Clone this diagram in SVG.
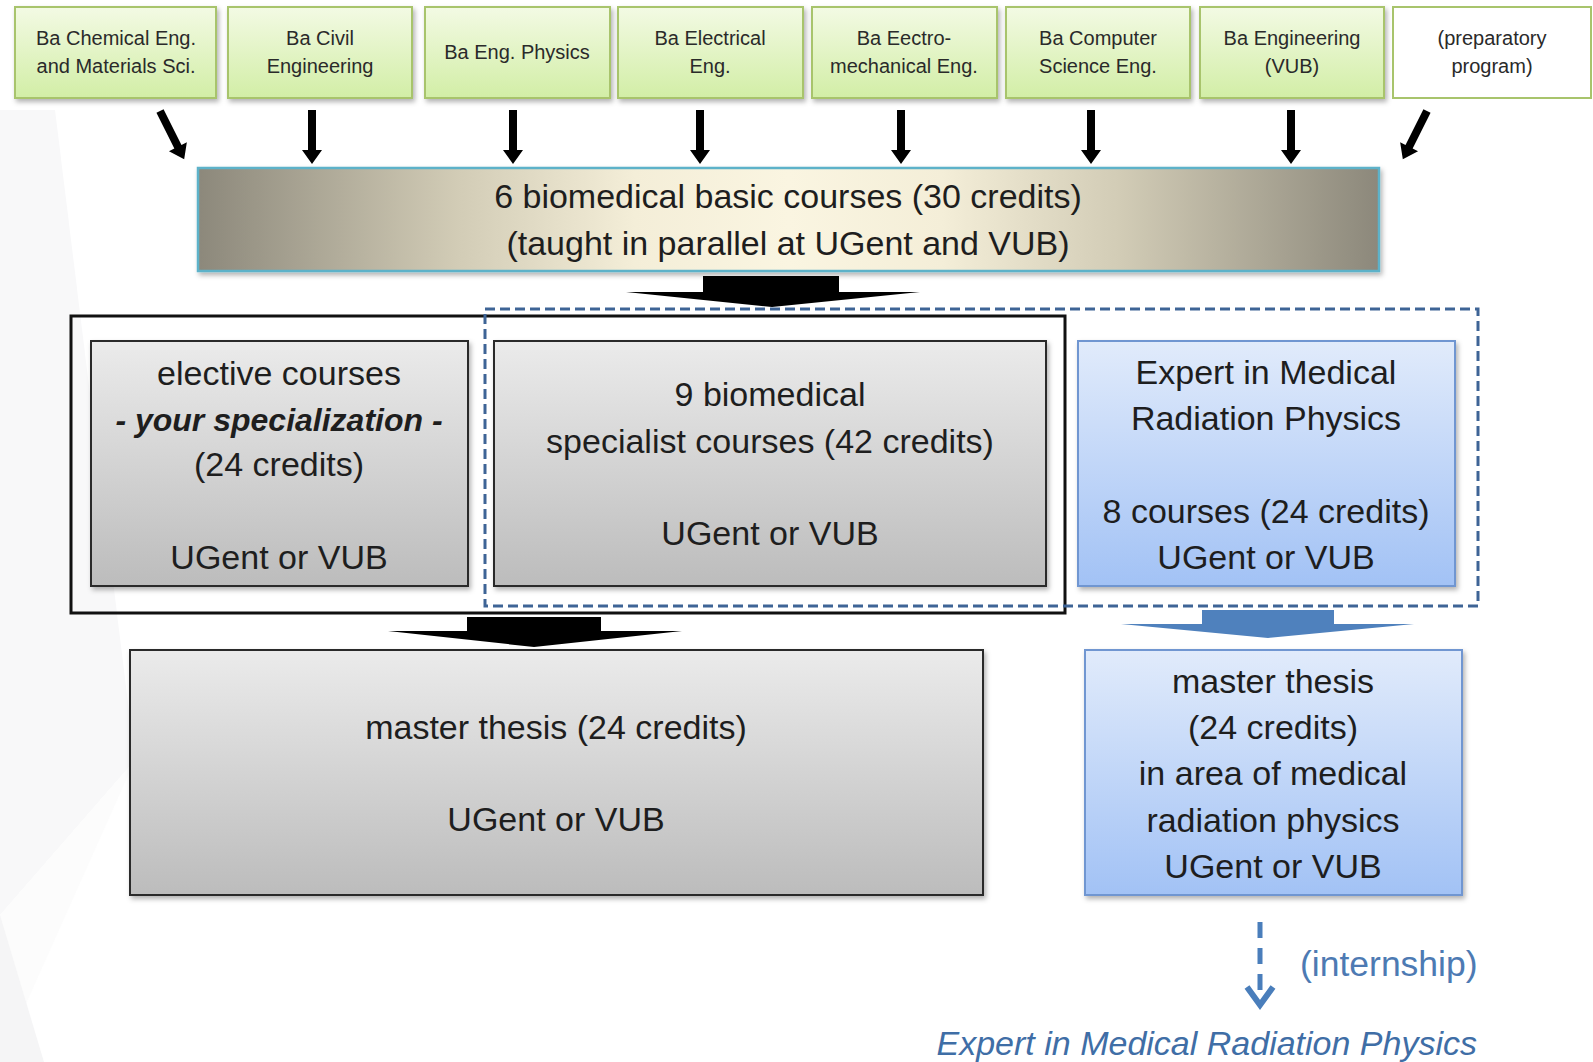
<svg xmlns="http://www.w3.org/2000/svg" width="1593" height="1062" viewBox="0 0 1593 1062">
<defs>
<style>
.t{font-family:"Liberation Sans",Arial,sans-serif;fill:#1e1e1e;text-anchor:middle}
.top{font-size:20px;fill:#2a2a2a}
.big{font-size:34px}
.green{fill:url(#gGreen);stroke:#a8c46c;stroke-width:2}
.gray{fill:url(#gGray);stroke:#2b2b2b;stroke-width:2}
.blue{fill:url(#gBlue);stroke:#6f96d1;stroke-width:2}
.blk{fill:#000}
</style>
<linearGradient id="gGreen" x1="0" y1="0" x2="0" y2="1"><stop offset="0" stop-color="#f3fae4"/><stop offset="1" stop-color="#d2eea6"/></linearGradient>
<linearGradient id="gGray" x1="0" y1="0" x2="0" y2="1"><stop offset="0" stop-color="#ebebeb"/><stop offset="1" stop-color="#bcbcbc"/></linearGradient>
<linearGradient id="gBlue" x1="0" y1="0" x2="0" y2="1"><stop offset="0" stop-color="#e1ebfb"/><stop offset="1" stop-color="#a2c2f5"/></linearGradient>
<linearGradient id="gBasic" x1="0" y1="0" x2="1" y2="0"><stop offset="0" stop-color="#8c887b"/><stop offset="0.22" stop-color="#d2ccb6"/><stop offset="0.37" stop-color="#f4eed8"/><stop offset="0.5" stop-color="#faf5e1"/><stop offset="0.63" stop-color="#f4eed8"/><stop offset="0.78" stop-color="#d2ccb6"/><stop offset="1" stop-color="#8c887b"/></linearGradient>
<filter id="sh" x="-5%" y="-10%" width="115%" height="130%"><feDropShadow dx="2" dy="3" stdDeviation="2.5" flood-color="#000" flood-opacity="0.3"/></filter>
<path id="arr" d="M-4,0 L4,0 L4,40 L10,40 L0,54 L-10,40 L-4,40 Z"/>
</defs>
<rect width="1593" height="1062" fill="#ffffff"/>
<g id="background">
<polygon points="0,110 55,110 135,760 0,915" fill="#f8f8f9"/>
<polygon points="0,915 135,760 0,1062" fill="#fcfcfc"/>
<polygon points="0,915 44,1062 0,1062" fill="#f5f5f6"/>
</g>
<g id="groups">
<rect id="outerBox" x="71" y="316" width="994" height="297" fill="none" stroke="#111" stroke-width="3"/>
<rect id="dashedBox" x="485" y="309" width="993" height="297" fill="none" stroke="#3e6496" stroke-width="3" stroke-dasharray="10 5"/>
</g>
<g id="connectors">
<use href="#arr" x="312" y="110" class="blk"/>
<use href="#arr" x="513" y="110" class="blk"/>
<use href="#arr" x="700" y="110" class="blk"/>
<use href="#arr" x="901" y="110" class="blk"/>
<use href="#arr" x="1091" y="110" class="blk"/>
<use href="#arr" x="1291" y="110" class="blk"/>
<use href="#arr" class="blk" transform="translate(160,111) rotate(-26.6)"/>
<use href="#arr" class="blk" transform="translate(1427,111) rotate(26.6)"/>
<polygon class="blk" points="703,276 839,276 839,292 920,292 772,307 626,292 703,292"/>
<polygon class="blk" points="467,617 601,617 601,631 682,631 534,647 388,631 467,631"/>
<polygon fill="#4f81bd" points="1202,610 1334,610 1334,624 1414,624 1268,638 1121,624 1202,624"/>
<line x1="1260" y1="922" x2="1260" y2="1000" stroke="#4a7ebb" stroke-width="5" stroke-dasharray="16 10"/>
<polyline points="1247,987 1260,1005 1273,987" fill="none" stroke="#4a7ebb" stroke-width="6"/>
</g>
<g id="n1"><rect class="green" x="15" y="7" width="201" height="91" filter="url(#sh)"/><text class="t top" x="116" y="45">Ba Chemical Eng.</text><text class="t top" x="116" y="73">and Materials Sci.</text></g>
<g id="n2"><rect class="green" x="228" y="7" width="184" height="91" filter="url(#sh)"/><text class="t top" x="320" y="45">Ba Civil</text><text class="t top" x="320" y="73">Engineering</text></g>
<g id="n3"><rect class="green" x="425" y="7" width="185" height="91" filter="url(#sh)"/><text class="t top" x="517" y="59">Ba Eng. Physics</text></g>
<g id="n4"><rect class="green" x="618" y="7" width="185" height="91" filter="url(#sh)"/><text class="t top" x="710" y="45">Ba Electrical</text><text class="t top" x="710" y="73">Eng.</text></g>
<g id="n5"><rect class="green" x="812" y="7" width="185" height="91" filter="url(#sh)"/><text class="t top" x="904" y="45">Ba Eectro-</text><text class="t top" x="904" y="73">mechanical Eng.</text></g>
<g id="n6"><rect class="green" x="1006" y="7" width="184" height="91" filter="url(#sh)"/><text class="t top" x="1098" y="45">Ba Computer</text><text class="t top" x="1098" y="73">Science Eng.</text></g>
<g id="n7"><rect class="green" x="1200" y="7" width="184" height="91" filter="url(#sh)"/><text class="t top" x="1292" y="45">Ba Engineering</text><text class="t top" x="1292" y="73">(VUB)</text></g>
<g id="n8"><rect x="1393" y="7" width="198" height="91" fill="#ffffff" stroke="#a8c46c" stroke-width="2"/><text class="t top" x="1492" y="45">(preparatory</text><text class="t top" x="1492" y="73">program)</text></g>
<g id="basic"><rect x="198" y="168" width="1181" height="103" fill="url(#gBasic)" stroke="#5db2c9" stroke-width="2.5" filter="url(#sh)"/><text class="t big" x="788" y="208">6 biomedical basic courses (30 credits)</text><text class="t big" x="788" y="255">(taught in parallel at UGent and VUB)</text></g>
<g id="elective"><rect class="gray" x="91" y="341" width="377" height="245" filter="url(#sh)"/><text class="t big" x="279" y="385">elective courses</text><text class="t" x="279" y="431" font-size="32" font-weight="bold" font-style="italic">- your specialization -</text><text class="t big" x="279" y="476">(24 credits)</text><text class="t big" x="279" y="569">UGent or VUB</text></g>
<g id="specialist"><rect class="gray" x="494" y="341" width="552" height="245" filter="url(#sh)"/><text class="t big" x="770" y="406">9 biomedical</text><text class="t big" x="770" y="453">specialist courses (42 credits)</text><text class="t big" x="770" y="545">UGent or VUB</text></g>
<g id="expert"><rect class="blue" x="1078" y="341" width="377" height="245" filter="url(#sh)"/><text class="t big" x="1266" y="384">Expert in Medical</text><text class="t big" x="1266" y="430">Radiation Physics</text><text class="t big" x="1266" y="523">8 courses (24 credits)</text><text class="t big" x="1266" y="569">UGent or VUB</text></g>
<g id="thesisGray"><rect class="gray" x="130" y="650" width="853" height="245" filter="url(#sh)"/><text class="t big" x="556" y="739">master thesis (24 credits)</text><text class="t big" x="556" y="831">UGent or VUB</text></g>
<g id="thesisBlue"><rect class="blue" x="1085" y="650" width="377" height="245" filter="url(#sh)"/><text class="t big" x="1273" y="693">master thesis</text><text class="t big" x="1273" y="739">(24 credits)</text><text class="t big" x="1273" y="785">in area of medical</text><text class="t big" x="1273" y="832">radiation physics</text><text class="t big" x="1273" y="878">UGent or VUB</text></g>
<g id="internship"><text x="1300" y="976" font-family="Liberation Sans, Arial, sans-serif" font-size="35.5" fill="#4d7ab3">(internship)</text></g>
<g id="expertFinal"><text x="1477" y="1055" text-anchor="end" font-family="Liberation Sans, Arial, sans-serif" font-size="34" font-style="italic" fill="#3f6ea6">Expert in Medical Radiation Physics</text></g>
</svg>
